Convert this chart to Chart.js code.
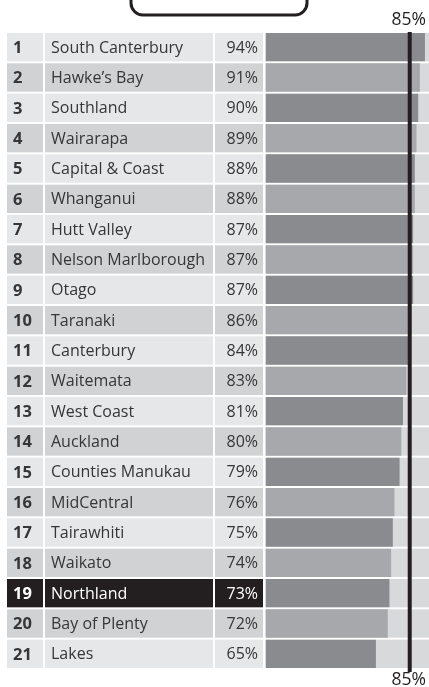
<!DOCTYPE html>
<html>
<head>
<meta charset="utf-8">
<script src="https://cdn.jsdelivr.net/npm/chart.js@4"></script>
<style>
  html, body { margin: 0; padding: 0; background: #ffffff; }
  #wrap { position: relative; width: 429px; height: 687px; }
</style>
</head>
<body>
<div id="wrap"><canvas id="chart" width="429" height="687"></canvas></div>
<script>
// ranks, regions and percentage met
const ranks = [1, 2, 3, 4, 5, 6, 7, 8, 9, 10, 11, 12, 13, 14, 15, 16, 17, 18, 19, 20, 21];
const regions = [
    'South Canterbury', 'Hawke\u2019s Bay', 'Southland', 'Wairarapa', 'Capital & Coast',
    'Whanganui', 'Hutt Valley', 'Nelson Marlborough', 'Otago', 'Taranaki',
    'Canterbury', 'Waitemata', 'West Coast', 'Auckland', 'Counties Manukau',
    'MidCentral', 'Tairawhiti', 'Waikato', 'Northland', 'Bay of Plenty', 'Lakes'
];
const values = [94, 91, 90, 89, 88, 88, 87, 87, 87, 86, 84, 83, 81, 80, 79, 76, 75, 74, 73, 72, 65];
const target = 85;
const targetLabel = '85%';
const highlight = 'Northland';

const FONT = '"Open Sans", "Noto Sans", sans-serif';
const TEXT = '#363638';

const tablePlugin = {
    id: 'table',
    beforeDatasetsDraw(chart) {
        const { ctx, chartArea, scales: { y } } = chart;
        const step = y.getPixelForValue(1) - y.getPixelForValue(0);
        const h = step * 0.934 / 2;
        ctx.save();
        regions.forEach((name, i) => {
            const cy = y.getPixelForValue(i);
            const top = cy - h, rh = h * 2;
            const hl = name === highlight;
            const cellBg = hl ? '#231f20' : (i % 2 === 0 ? '#e6e7e8' : '#d1d2d4');
            // track behind bar
            ctx.fillStyle = '#d8d9db';
            ctx.fillRect(chartArea.left - 1, top, chartArea.right - chartArea.left + 1, rh);
            // cells
            ctx.fillStyle = cellBg;
            ctx.fillRect(7, top, 36, rh);
            ctx.fillRect(45, top, 168, rh);
            ctx.fillRect(215, top, 48, rh);
            ctx.fillStyle = hl ? '#ffffff' : TEXT;
            ctx.textBaseline = 'middle';
            ctx.textAlign = 'left';
            ctx.font = 'bold 16.5px ' + FONT;
            ctx.fillText(String(ranks[i]), 13, cy + 1);
            ctx.font = '16px ' + FONT;
            ctx.fillText(name, 51, cy + 1);
            ctx.textAlign = 'right';
            ctx.fillText(values[i] + '%', 258, cy + 1);
        });
        ctx.restore();
    },
    afterDatasetsDraw(chart) {
        const { ctx, scales: { x } } = chart;
        const lx = x.getPixelForValue(target);
        ctx.save();
        ctx.fillStyle = '#231f20';
        ctx.fillRect(lx - 2, 32, 4, 640);
        ctx.font = '17.5px ' + FONT;
        ctx.textAlign = 'center';
        ctx.textBaseline = 'middle';
        ctx.fillText(targetLabel, lx - 1, 20);
        ctx.fillText(targetLabel, lx - 1, 680);
        // partial rounded box at the top
        ctx.strokeStyle = '#231f20';
        ctx.lineWidth = 3;
        ctx.beginPath();
        ctx.roundRect(131, -20, 176, 35, 12);
        ctx.stroke();
        ctx.restore();
    }
};

new Chart(document.getElementById('chart').getContext('2d'), {
    type: 'bar',
    data: {
        labels: regions,
        datasets: [{
            data: values,
            backgroundColor: values.map((v, i) => i % 2 === 0 ? '#8a8b8e' : '#a7a8ab'),
            borderWidth: 0,
            categoryPercentage: 1,
            barPercentage: 0.934
        }]
    },
    options: {
        indexAxis: 'y',
        responsive: false,
        animation: false,
        layout: { padding: { left: 266, right: 0, top: 32, bottom: 18 } },
        plugins: { legend: { display: false }, tooltip: { enabled: false } },
        scales: {
            x: { display: false, min: 0, max: 96.4 },
            y: { display: false }
        }
    },
    plugins: [tablePlugin]
});
</script>
</body>
</html>
